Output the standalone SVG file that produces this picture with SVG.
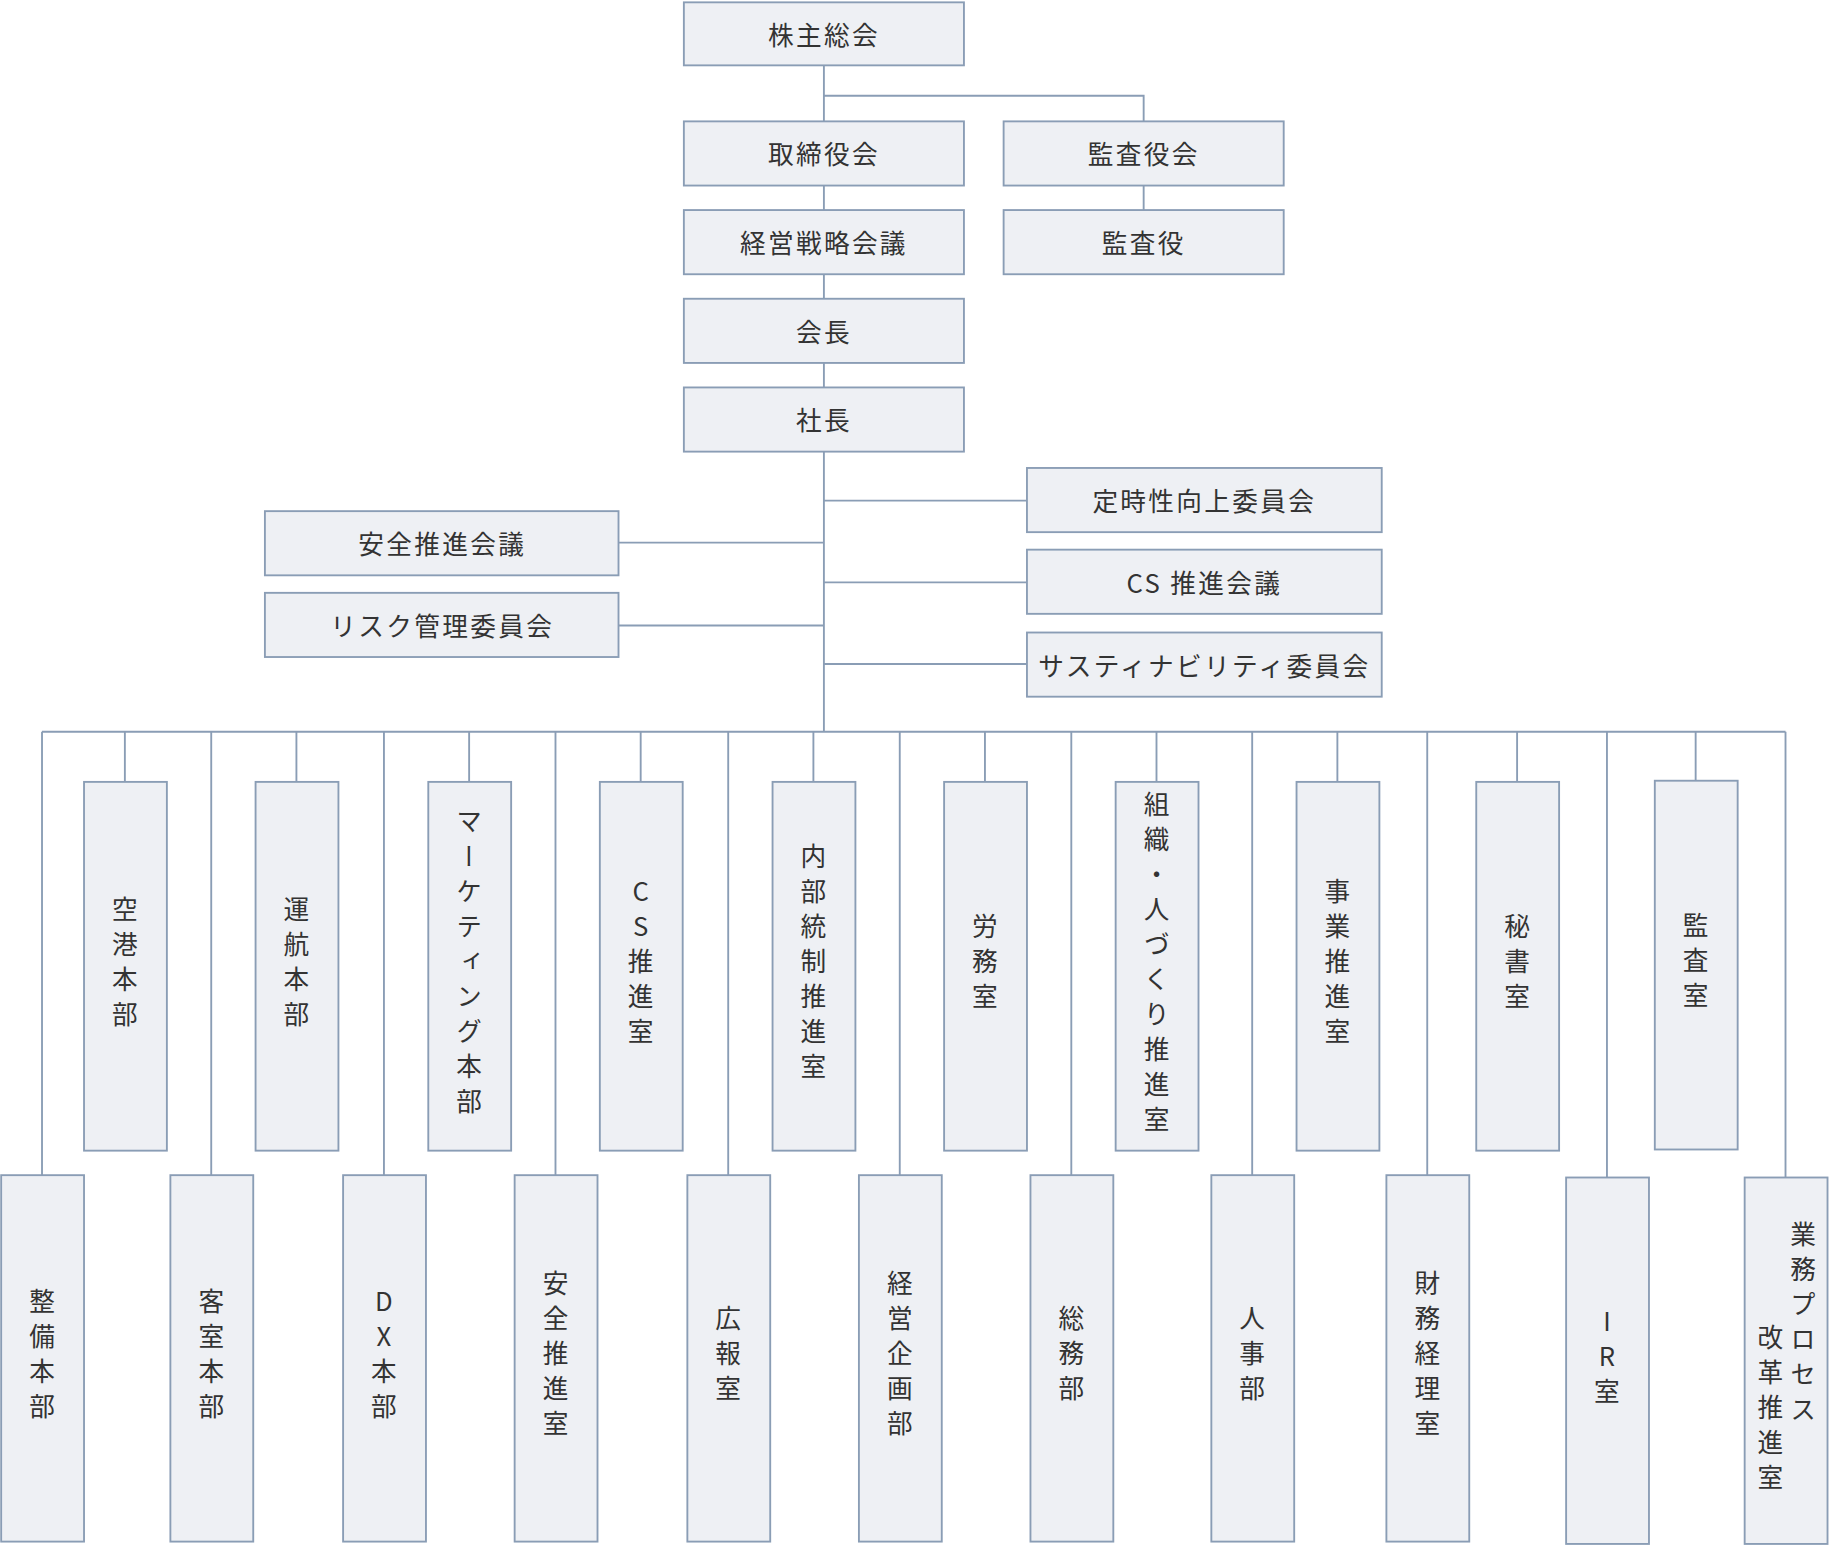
<svg xmlns="http://www.w3.org/2000/svg" width="1830" height="1546" viewBox="0 0 1830 1546">
<style>
.b{fill:#eef0f4;stroke:#8a9db5;stroke-width:1.6}
.l{stroke:#8a9db5;stroke-width:1.6;fill:none}
text{font-family:"Noto Sans CJK JP","Noto Sans",sans-serif;font-size:22px;fill:#333}
.h{text-anchor:middle;dominant-baseline:central;letter-spacing:2px}
.v{writing-mode:vertical-rl;text-orientation:upright;text-anchor:middle;letter-spacing:8px}
</style>
<rect width="1830" height="1546" fill="#fff"/>
<g transform="scale(1.167)">
<g id="connectors">
<path class="l" d="M706 56V104M706 82H980V104M706 159V180M980 159V180M706 235V256M706 311V332M706 387V627M706 429H880M706 499H880M706 569H880M530 465H706M530 536H706M36 627H1530"/>
<path class="l" d="M107 627V670M254 627V670M402 627V670M549 627V670M697 627V670M844 627V670M991 627V670M1146 627V670M1300 627V670M1453 627V669"/>
<path class="l" d="M36 627V1007M181 627V1007M329 627V1007M476 627V1007M624 627V1007M771 627V1007M918 627V1007M1073 627V1007M1223 627V1007M1377 627V1009M1530 627V1009"/>
</g>
<g id="n1"><rect class="b" x="586" y="2" width="240" height="54"/><text class="h" x="706" y="29">株主総会</text></g>
<g id="n2"><rect class="b" x="586" y="104" width="240" height="55"/><text class="h" x="706" y="131">取締役会</text></g>
<g id="n3"><rect class="b" x="860" y="104" width="240" height="55"/><text class="h" x="980" y="131">監査役会</text></g>
<g id="n4"><rect class="b" x="586" y="180" width="240" height="55"/><text class="h" x="706" y="207">経営戦略会議</text></g>
<g id="n5"><rect class="b" x="860" y="180" width="240" height="55"/><text class="h" x="980" y="207">監査役</text></g>
<g id="n6"><rect class="b" x="586" y="256" width="240" height="55"/><text class="h" x="706" y="283">会長</text></g>
<g id="n7"><rect class="b" x="586" y="332" width="240" height="55"/><text class="h" x="706" y="359">社長</text></g>
<g id="n8"><rect class="b" x="880" y="401" width="304" height="55"/><text class="h" x="1032" y="428">定時性向上委員会</text></g>
<g id="n9"><rect class="b" x="880" y="471" width="304" height="55"/><text class="h" x="1032" y="498">CS 推進会議</text></g>
<g id="n10"><rect class="b" x="880" y="542" width="304" height="55"/><text class="h" x="1032" y="569">サスティナビリティ委員会</text></g>
<g id="n11"><rect class="b" x="227" y="438" width="303" height="55"/><text class="h" x="379" y="465">安全推進会議</text></g>
<g id="n12"><rect class="b" x="227" y="508" width="303" height="55"/><text class="h" x="379" y="535">リスク管理委員会</text></g>
<g id="u1"><rect class="b" x="72" y="670" width="71" height="316"/><text class="v" x="107" y="828">空港本部</text></g>
<g id="u2"><rect class="b" x="219" y="670" width="71" height="316"/><text class="v" x="254" y="828">運航本部</text></g>
<g id="u3"><rect class="b" x="367" y="670" width="71" height="316"/><text class="v" x="402" y="828">マーケティング本部</text></g>
<g id="u4"><rect class="b" x="514" y="670" width="71" height="316"/><text class="v" x="549" y="828">CS推進室</text></g>
<g id="u5"><rect class="b" x="662" y="670" width="71" height="316"/><text class="v" x="697" y="828">内部統制推進室</text></g>
<g id="u6"><rect class="b" x="809" y="670" width="71" height="316"/><text class="v" x="844" y="828">労務室</text></g>
<g id="u7"><rect class="b" x="956" y="670" width="71" height="316"/><text class="v" x="991" y="828">組織・人づくり推進室</text></g>
<g id="u8"><rect class="b" x="1111" y="670" width="71" height="316"/><text class="v" x="1146" y="828">事業推進室</text></g>
<g id="u9"><rect class="b" x="1265" y="670" width="71" height="316"/><text class="v" x="1300" y="828">秘書室</text></g>
<g id="u10"><rect class="b" x="1418" y="669" width="71" height="316"/><text class="v" x="1453" y="827">監査室</text></g>
<g id="d1"><rect class="b" x="1" y="1007" width="71" height="314"/><text class="v" x="36" y="1164">整備本部</text></g>
<g id="d2"><rect class="b" x="146" y="1007" width="71" height="314"/><text class="v" x="181" y="1164">客室本部</text></g>
<g id="d3"><rect class="b" x="294" y="1007" width="71" height="314"/><text class="v" x="329" y="1164">DX本部</text></g>
<g id="d4"><rect class="b" x="441" y="1007" width="71" height="314"/><text class="v" x="476" y="1164">安全推進室</text></g>
<g id="d5"><rect class="b" x="589" y="1007" width="71" height="314"/><text class="v" x="624" y="1164">広報室</text></g>
<g id="d6"><rect class="b" x="736" y="1007" width="71" height="314"/><text class="v" x="771" y="1164">経営企画部</text></g>
<g id="d7"><rect class="b" x="883" y="1007" width="71" height="314"/><text class="v" x="918" y="1164">総務部</text></g>
<g id="d8"><rect class="b" x="1038" y="1007" width="71" height="314"/><text class="v" x="1073" y="1164">人事部</text></g>
<g id="d9"><rect class="b" x="1188" y="1007" width="71" height="314"/><text class="v" x="1223" y="1164">財務経理室</text></g>
<g id="d10"><rect class="b" x="1342" y="1009" width="71" height="314"/><text class="v" x="1377" y="1166">IR室</text></g>
<g id="d11"><rect class="b" x="1495" y="1009" width="71" height="314"/><text class="v" x="1545" y="1137">業務プロセス</text><text class="v" x="1517" y="1210">改革推進室</text></g>
</g>
</svg>
